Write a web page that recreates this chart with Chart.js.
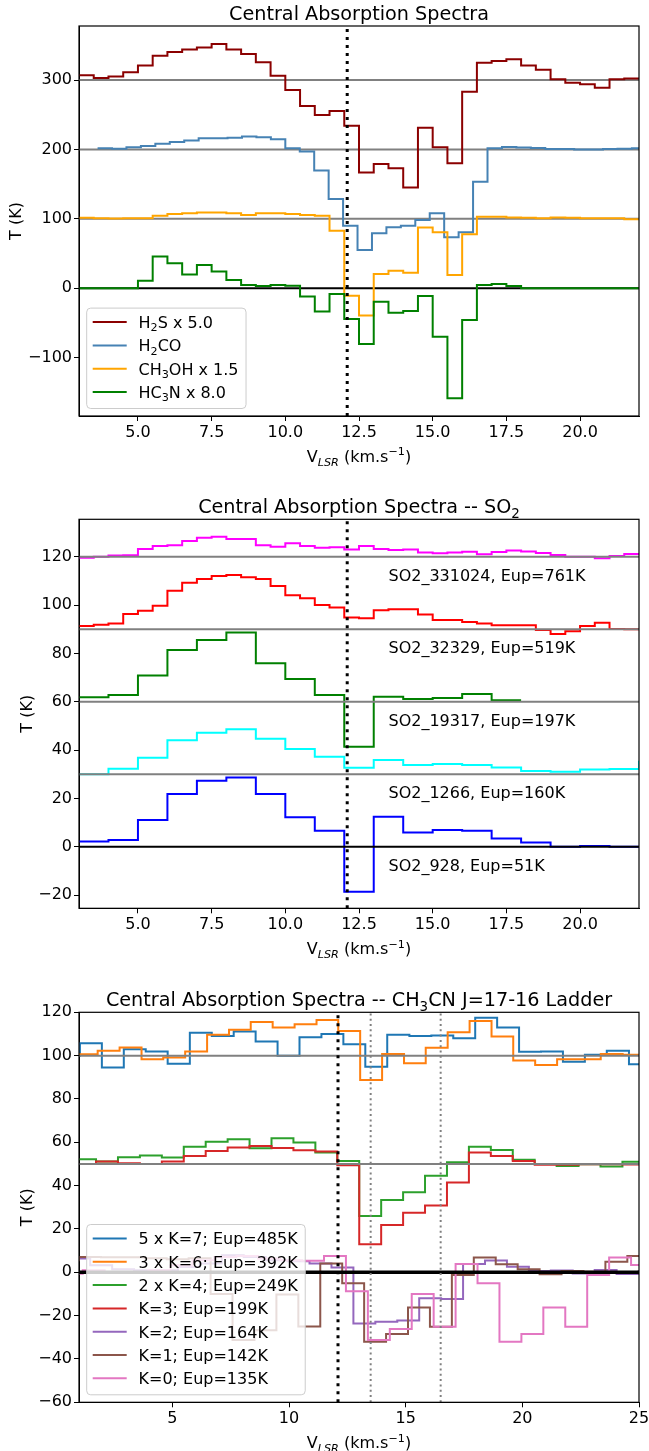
<!DOCTYPE html>
<html><head><meta charset="utf-8">
<script src="https://cdn.jsdelivr.net/npm/chart.js@4.4.1/dist/chart.umd.min.js"></script>
<style>
html,body{margin:0;padding:0;background:#fff;}
#wrap{position:relative;width:649px;height:1451px;overflow:hidden;background:#fff;}
canvas{position:absolute;left:0;}
</style></head><body>
<div id="wrap">
<canvas id="c1" width="649" height="480" style="top:0px"></canvas>
<canvas id="c2" width="649" height="490" style="top:480px"></canvas>
<canvas id="c3" width="649" height="483" style="top:968px"></canvas>
</div>
<script>
// ---------------- DATA ----------------
// Panel 1 : channel edges (km/s)
const GRID05 = [3, 3.5, 4, 4.5, 5, 5.5, 6, 6.5, 7, 7.5, 8, 8.5, 9, 9.5, 10, 10.5, 11, 11.5, 12, 12.5, 13, 13.5, 14, 14.5, 15, 15.5, 16, 16.5, 17, 17.5, 18, 18.5, 19, 19.5, 20, 20.5, 21, 21.5, 22];
const H2CO_EDGES = [3.63, 4.12, 4.61, 5.10, 5.59, 6.08, 6.57, 7.06, 7.55, 8.04, 8.53, 9.02, 9.51, 10.00, 10.49, 10.98, 11.47, 11.96, 12.45, 12.94, 13.43, 13.92, 14.41, 14.90, 15.39, 15.88, 16.37, 16.86, 17.35, 17.84, 18.33, 18.82, 19.31, 19.80, 20.29, 20.78, 21.27, 21.76, 22.25];
const H2S = [307, 303, 305, 311, 321, 335, 340.5, 344, 347, 352, 344, 337.6, 325.6, 306, 285.7, 262.7, 249.7, 255.5, 234, 166.6, 179, 173, 145, 231.4, 203, 180, 283, 325, 327.5, 330, 320.8, 314.6, 301, 296, 294, 289, 301, 302];
const H2CO = [201.7, 201, 203, 205, 208, 210.8, 212.7, 216, 216, 217, 218.5, 217.5, 214.7, 201.7, 196.9, 169.5, 128.7, 90.2, 55.2, 79.2, 87.9, 90.2, 98.4, 108, 73.5, 80.7, 153.6, 201.7, 203.6, 202.6, 202, 200.5, 200.5, 200, 200, 200.5, 201, 201.7];
const CH3OH = [101.7, 100.8, 100.5, 100.8, 101, 104.6, 107, 108, 109, 109, 108, 105.6, 108, 108, 107, 105.6, 104.6, 83, -10.6, -39.4, 20.6, 25.4, 22.5, 87.4, 80.7, 19.2, 77.8, 103.2, 103.2, 102, 101.5, 101, 102, 101.5, 101, 101, 100.8, 99.5];
const HC3N = [0, 0, 0, 0, 11, 45.6, 36, 20, 33.6, 24, 12, 4.8, 3.3, 4.8, 3.8, -12, -33.6, -8.2, -44.2, -80.3, -19.3, -35.1, -32.7, -11.1, -69.7, -158.5, -45.7, 4.8, 6.2, 3.3, 0, 0, 0, 0, 0, 0, 0, 0];
const LEGEND1 = ['H_{2}S x 5.0', 'H_{2}CO', 'CH_{3}OH x 1.5', 'HC_{3}N x 8.0'];
const COLORS1 = ['#8b0000', '#4682b4', '#ffa500', '#008000'];

// Panel 2
const GRID1 = [3, 4, 5, 6, 7, 8, 9, 10, 11, 12, 13, 14, 15, 16, 17, 18, 19, 20, 21, 22, 23];
const SO2_331024 = [119.6, 120, 120.5, 120.6, 123.2, 124.4, 124.8, 126.5, 127.9, 128.3, 127.3, 127.3, 124.8, 124.1, 125.6, 124.5, 123.7, 123.9, 123, 124.5, 123.2, 122.8, 123, 121.8, 121.4, 121.8, 122.1, 121, 122, 122.6, 122.2, 121.6, 120.7, 120, 120, 119.4, 120.3, 121.1];
const SO2_32329 = [91.3, 91.9, 92.4, 96.3, 97.7, 99.7, 105.9, 109.2, 110.8, 112, 112.4, 111.5, 110.8, 107.9, 104.1, 102.8, 100, 99, 94.9, 94.5, 97.9, 98.3, 98.3, 96.1, 93.8, 93.8, 93, 92.4, 91.7, 91.7, 91.7, 89.7, 88, 89.2, 91.3, 92.7, 90.1, 90];
const SO2_19317 = [61.8, 62.8, 70.9, 81.4, 85.5, 88.7, 75.9, 69.4, 62.8, 41.4, 62.1, 61.1, 61.5, 63.2, 60.6];
const SO2_1266 = [30, 32.3, 36.8, 44.1, 47.2, 48.6, 44.7, 40.4, 37.2, 32.7, 35.9, 33.8, 34.2, 33.8, 32.8, 31.3, 31, 31.9, 32.2, 35.6];
const SO2_928 = [2.1, 2.8, 11, 21.8, 27.3, 28.6, 21.8, 12.2, 6.6, -18.6, 12.4, 5.9, 6.9, 6.6, 3.4, 1.7, 0, 0.3, 0];
const SO2_LABELS = ['SO2_331024, Eup=761K', 'SO2_32329, Eup=519K', 'SO2_19317, Eup=197K', 'SO2_1266, Eup=160K', 'SO2_928, Eup=51K'];
const SO2_OFFSETS = [120, 90, 60, 30, 0];
const COLORS2 = ['#ff00ff', '#ff0000', '#008000', '#00ffff', '#0000ff'];

// Panel 3
const EDGES_K7 = [0.10, 1.04, 1.98, 2.92, 3.86, 4.80, 5.75, 6.69, 7.63, 8.57, 9.51, 10.45, 11.39, 12.33, 13.27, 14.21, 15.16, 16.10, 17.04, 17.98, 18.92, 19.86, 20.80, 21.74, 22.68, 23.62, 24.57, 25.51];
const EDGES_K6 = [0.86, 1.80, 2.74, 3.68, 4.61, 5.55, 6.49, 7.43, 8.36, 9.30, 10.24, 11.18, 12.11, 13.05, 13.99, 14.93, 15.86, 16.80, 17.74, 18.68, 19.61, 20.55, 21.49, 22.43, 23.36, 24.30, 25.24];
const EDGES_K43 = [0.79, 1.73, 2.67, 3.61, 4.55, 5.49, 6.43, 7.37, 8.31, 9.25, 10.19, 11.13, 12.07, 13.01, 13.95, 14.89, 15.83, 16.77, 17.71, 18.65, 19.59, 20.53, 21.47, 22.41, 23.35, 24.29, 25.23];
const EDGES_K2 = [0.54, 1.48, 2.42, 3.36, 4.30, 5.24, 6.18, 7.12, 8.06, 9.00, 9.94, 10.88, 11.82, 12.76, 13.70, 14.64, 15.58, 16.52, 17.46, 18.40, 19.34, 20.28, 21.22, 22.16, 23.10, 24.04, 24.98, 25.92];
const EDGES_K1 = [0.06, 1.00, 1.94, 2.88, 3.82, 4.76, 5.70, 6.64, 7.58, 8.52, 9.46, 10.40, 11.34, 12.28, 13.22, 14.16, 15.10, 16.04, 16.98, 17.92, 18.86, 19.80, 20.74, 21.68, 22.62, 23.56, 24.50, 25.44];
const EDGES_K0 = [0.22, 1.16, 2.10, 3.04, 3.98, 4.92, 5.86, 6.80, 7.74, 8.68, 9.62, 10.56, 11.50, 12.44, 13.38, 14.32, 15.26, 16.20, 17.14, 18.08, 19.02, 19.96, 20.90, 21.84, 22.78, 23.72, 24.66, 25.60];
const K7 = [100, 105.7, 94.5, 102.9, 101.9, 96.2, 110.6, 109.1, 111.1, 106.5, 100, 108.5, 110, 105.3, 94.9, 109.6, 109.1, 109.3, 108, 117.5, 113, 101.8, 101.9, 97.2, 100.4, 102.3, 96.0];
const K6 = [100.6, 102.3, 103.7, 98.3, 99.1, 101.9, 109.6, 112, 115.5, 113, 114.5, 116.5, 111.4, 88.8, 100.8, 96.5, 103.6, 110.8, 116, 108.8, 97.7, 95.7, 98.3, 98.3, 100.8, 100.4];
const K4 = [52.2, 51.1, 53.1, 53.9, 53.0, 58.0, 60.3, 61.4, 57.2, 61.9, 59.9, 55.3, 51.4, 26.0, 33.4, 36.9, 44.6, 50.8, 58.0, 56.5, 51.9, 50.0, 49.1, 49.9, 48.8, 51.0];
const K3 = [50.0, 51.1, 50.3, 50.0, 51.1, 53.7, 56.0, 57.6, 58.3, 57.4, 56.3, 55.8, 49.4, 12.9, 21.8, 27.5, 30.8, 41.4, 55.3, 53.7, 51.4, 49.6, 49.6, 49.9, 49.9, 49.8];
const K2 = [6.4, 3.3, 1.4, 1.0, 1.0, 2.5, 4.1, 7.9, 7.1, 5.6, 5.1, 4.1, 2.2, -23.6, -22.8, -22.3, -12.0, -12.3, 3.8, 5.4, 2.6, 0.6, 0.8, -0.5, 1.1, -0.8, 0.5];
const K1 = [5.6, 7.1, 7.0, 7.0, 6.5, 6.0, 6.5, -10.0, -31.3, -26.7, -10.3, -25.0, 4.1, -5.0, -32.0, -28.5, -16.3, -25.1, -1.2, 6.8, 3.7, 1.4, -0.9, 0.6, 0.3, 4.9, 7.5];
const K0 = [-0.7, 1.0, -0.3, 0.0, 1.0, 3.3, 5.6, 7.1, 7.5, 6.4, 5.6, 5.3, 7.5, -8.8, -31.3, -26.2, -10.0, -25.1, 3.8, -5.1, -32.0, -28.5, -16.3, -25.1, -1.2, 6.8, 3.4];
const LEGEND3 = ['5 x K=7; Eup=485K', '3 x K=6; Eup=392K', '2 x K=4; Eup=249K', 'K=3; Eup=199K', 'K=2; Eup=164K', 'K=1; Eup=142K', 'K=0; Eup=135K'];
const COLORS3 = ['#1f77b4', '#ff7f0e', '#2ca02c', '#d62728', '#9467bd', '#8c564b', '#e377c2'];

// Ticks
const X1_TICKS = [5, 7.5, 10, 12.5, 15, 17.5, 20];
const Y1_TICKS = [-100, 0, 100, 200, 300];
const Y2_TICKS = [-20, 0, 20, 40, 60, 80, 100, 120];
const X3_TICKS = [5, 10, 15, 20, 25];
const Y3_TICKS = [-60, -40, -20, 0, 20, 40, 60, 80, 100, 120];

const TITLES = ['Central Absorption Spectra', 'Central Absorption Spectra -- SO_{2}', 'Central Absorption Spectra -- CH_{3}CN J=17-16 Ladder'];
const XTITLE = 'V_{LSR} (km.s^{\u22121})';
const YTITLE = 'T (K)';

// ---------------- RENDERING ----------------
const FONT = "'DejaVu Sans', sans-serif";
Chart.defaults.font.family = FONT;
Chart.defaults.font.size = 16;
Chart.defaults.color = '#000';

function parseRich(str) {
  const out = [];
  const re = /(_\{[^}]*\}|\^\{[^}]*\})/g;
  let last = 0, m;
  while ((m = re.exec(str)) !== null) {
    if (m.index > last) out.push({t: str.slice(last, m.index)});
    const kind = m[0][0] === '_' ? 'sub' : 'sup';
    const t = m[0].slice(2, -1);
    out.push({t, s: kind, i: /[A-Za-z]/.test(t)});
    last = m.index + m[0].length;
  }
  if (last < str.length) out.push({t: str.slice(last)});
  return out;
}
function fontFor(s, size) { const sz = s.s ? size * 0.7 : size; return (s.i ? 'italic ' : '') + sz + 'px ' + FONT; }
function richWidth(ctx, segs, size) { let w = 0; for (const s of segs) { ctx.font = fontFor(s, size); w += ctx.measureText(s.t).width; } return w; }
function drawRich(ctx, str, x, y, size, align) {
  const segs = parseRich(str);
  const w = richWidth(ctx, segs, size);
  let cx = align === 'center' ? x - w / 2 : (align === 'right' ? x - w : x);
  ctx.textAlign = 'left'; ctx.textBaseline = 'alphabetic'; ctx.fillStyle = '#000';
  for (const s of segs) {
    ctx.font = fontFor(s, size);
    const dy = s.s === 'sub' ? size * 0.22 : (s.s === 'sup' ? -size * 0.42 : 0);
    ctx.fillText(s.t, cx, y + dy);
    cx += ctx.measureText(s.t).width;
  }
}

function stepPoints(edges, vals) {
  const pts = [];
  for (let i = 0; i < vals.length; i++) pts.push({x: edges[i], y: vals[i]});
  pts.push({x: edges[vals.length], y: vals[vals.length - 1]});
  return pts;
}
function makeDatasets(list) {
  const n = list.length;
  return list.map((d, i) => ({
    label: d.label, data: stepPoints(d.edges, d.vals), borderColor: d.color, backgroundColor: d.color,
    borderWidth: 2, stepped: true, pointRadius: 0, pointHoverRadius: 0, fill: false, order: n - i,
    borderJoinStyle: 'miter'
  }));
}

function fmtMinus(v) { return (v < 0 ? '\u2212' : '') + Math.abs(v); }

function makeScales(p) {
  return {
    x: {
      type: 'linear', min: p.xmin, max: p.xmax,
      afterBuildTicks: s => { s.ticks = p.xticks.map(v => ({value: v})); },
      afterFit: s => { s.height = p.xAxisH; s.paddingLeft = 0; s.paddingRight = 0; },
      ticks: {callback: p.xfmt, padding: 2, maxRotation: 0, autoSkip: false, color: '#000', font: {size: 16}},
      grid: {drawOnChartArea: false, drawTicks: true, tickLength: 5, color: '#000', lineWidth: 1},
      border: {display: true, color: '#000', width: 1}
    },
    y: {
      type: 'linear', min: p.ymin, max: p.ymax,
      afterBuildTicks: s => { s.ticks = p.yticks.map(v => ({value: v})); },
      afterFit: s => { s.width = 79; s.paddingTop = 0; s.paddingBottom = 0; },
      ticks: {callback: v => fmtMinus(v), padding: 2, autoSkip: false, color: '#000', font: {size: 16}},
      grid: {drawOnChartArea: false, drawTicks: true, tickLength: 5, color: '#000', lineWidth: 1},
      border: {display: true, color: '#000', width: 1}
    }
  };
}

function drawHLines(chart, lines) {
  const ctx = chart.ctx, ca = chart.chartArea, ys = chart.scales.y;
  ctx.save();
  ctx.beginPath(); ctx.rect(ca.left, ca.top, ca.right - ca.left, ca.bottom - ca.top); ctx.clip();
  for (const l of lines) {
    const y = ys.getPixelForValue(l.v);
    ctx.strokeStyle = l.color; ctx.lineWidth = l.w; ctx.setLineDash([]);
    ctx.beginPath(); ctx.moveTo(ca.left, y); ctx.lineTo(ca.right, y); ctx.stroke();
  }
  ctx.restore();
}
function drawVLines(chart, lines) {
  const ctx = chart.ctx, ca = chart.chartArea, xs = chart.scales.x;
  ctx.save();
  ctx.beginPath(); ctx.rect(ca.left, ca.top, ca.right - ca.left, ca.bottom - ca.top); ctx.clip();
  for (const l of lines) {
    const x = xs.getPixelForValue(l.v);
    ctx.strokeStyle = l.color; ctx.lineWidth = l.w; ctx.setLineDash(l.dash); ctx.lineCap = 'butt';
    ctx.beginPath(); ctx.moveTo(x, ca.bottom); ctx.lineTo(x, ca.top); ctx.stroke();
  }
  ctx.restore();
}
function drawLegend(chart, labels, colors) {
  const ctx = chart.ctx, ca = chart.chartArea;
  ctx.save();
  let maxW = 0;
  for (const l of labels) maxW = Math.max(maxW, richWidth(ctx, parseRich(l), 16));
  const rowH = 23.3;
  const w = 51.8 + maxW + 7.5, h = 14 + (labels.length - 1) * rowH + 16.5;
  const x0 = ca.left + 7.7, y0 = ca.bottom - 7.5 - h;
  ctx.beginPath();
  if (ctx.roundRect) ctx.roundRect(x0, y0, w, h, 4); else ctx.rect(x0, y0, w, h);
  ctx.fillStyle = 'rgba(255,255,255,0.8)'; ctx.fill();
  ctx.strokeStyle = '#cccccc'; ctx.lineWidth = 1; ctx.stroke();
  labels.forEach((l, i) => {
    const y = y0 + 14 + i * rowH;
    ctx.strokeStyle = colors[i]; ctx.lineWidth = 2;
    ctx.beginPath(); ctx.moveTo(x0 + 6, y); ctx.lineTo(x0 + 40, y); ctx.stroke();
    drawRich(ctx, l, x0 + 51.8, y + 5.8, 16, 'left');
  });
  ctx.restore();
}

function panelPlugin(p) {
  return {
    id: 'panel' + p.id,
    beforeDatasetsDraw(chart) { if (p.linesBelow) drawHLines(chart, p.hlines); },
    afterDatasetsDraw(chart) {
      if (!p.linesBelow) drawHLines(chart, p.hlines);
      drawVLines(chart, p.vlines);
    },
    afterDraw(chart) {
      const ctx = chart.ctx, ca = chart.chartArea;
      ctx.save();
      ctx.strokeStyle = '#000'; ctx.lineWidth = 1.2; ctx.setLineDash([]);
      ctx.strokeRect(ca.left, ca.top, ca.right - ca.left, ca.bottom - ca.top);
      if (p.annot) p.annot(chart);
      if (p.legend) drawLegend(chart, p.legend, p.legendColors);
      const cx = (ca.left + ca.right) / 2;
      drawRich(ctx, p.title, cx, ca.top - 6, 19.2, 'center');
      drawRich(ctx, XTITLE, cx, ca.bottom + 46, 16, 'center');
      ctx.save();
      ctx.translate(p.ytitleX, (ca.top + ca.bottom) / 2);
      ctx.rotate(-Math.PI / 2);
      ctx.font = '16px ' + FONT; ctx.textAlign = 'center'; ctx.textBaseline = 'middle'; ctx.fillStyle = '#000';
      ctx.fillText(YTITLE, 0, 0);
      ctx.restore();
      ctx.restore();
    }
  };
}

function build(canvasId, p, datasets) {
  return new Chart(document.getElementById(canvasId), {
    type: 'line',
    data: {datasets},
    options: {
      responsive: false, animation: false, events: [],
      layout: {padding: {left: 0, right: 10, top: p.padTop, bottom: 0}},
      scales: makeScales(p),
      plugins: {legend: {display: false}, tooltip: {enabled: false}, title: {display: false}}
    },
    plugins: [panelPlugin(p)]
  });
}

// Panel 1
build('c1', {
  id: 1, xmin: 3, xmax: 22, xticks: X1_TICKS, xfmt: v => v.toFixed(1),
  ymin: -184, ymax: 377.8, yticks: Y1_TICKS, xAxisH: 64, padTop: 26, ytitleX: 17,
  linesBelow: true,
  hlines: [{v: 300, color: '#808080', w: 2}, {v: 200, color: '#808080', w: 2}, {v: 100, color: '#808080', w: 2}, {v: 0, color: '#000', w: 2}],
  vlines: [{v: 12.1, color: '#000', w: 3, dash: [3, 5]}],
  legend: LEGEND1, legendColors: COLORS1, title: TITLES[0]
}, makeDatasets([
  {label: LEGEND1[0], edges: GRID05, vals: H2S, color: COLORS1[0]},
  {label: LEGEND1[1], edges: H2CO_EDGES, vals: H2CO, color: COLORS1[1]},
  {label: LEGEND1[2], edges: GRID05, vals: CH3OH, color: COLORS1[2]},
  {label: LEGEND1[3], edges: GRID05, vals: HC3N, color: COLORS1[3]}
]));

// Panel 2
build('c2', {
  id: 2, xmin: 3, xmax: 22, xticks: X1_TICKS, xfmt: v => v.toFixed(1),
  ymin: -25.5, ymax: 135.5, yticks: Y2_TICKS, xAxisH: 61.7, padTop: 39.3, ytitleX: 28,
  linesBelow: false,
  hlines: [{v: 120, color: '#808080', w: 2}, {v: 90, color: '#808080', w: 2}, {v: 60, color: '#808080', w: 2}, {v: 30, color: '#808080', w: 2}, {v: 0, color: '#000', w: 2}],
  vlines: [{v: 12.1, color: '#000', w: 3, dash: [3, 5]}],
  title: TITLES[1],
  annot(chart) {
    const ctx = chart.ctx, xs = chart.scales.x, ys = chart.scales.y;
    SO2_LABELS.forEach((t, i) => {
      drawRich(ctx, t, xs.getPixelForValue(13.5), ys.getPixelForValue(SO2_OFFSETS[i] - 10), 16, 'left');
    });
  }
}, makeDatasets([
  {label: SO2_LABELS[0], edges: GRID05, vals: SO2_331024, color: COLORS2[0]},
  {label: SO2_LABELS[1], edges: GRID05, vals: SO2_32329, color: COLORS2[1]},
  {label: SO2_LABELS[2], edges: GRID1, vals: SO2_19317, color: COLORS2[2]},
  {label: SO2_LABELS[3], edges: GRID1, vals: SO2_1266, color: COLORS2[3]},
  {label: SO2_LABELS[4], edges: GRID1, vals: SO2_928, color: COLORS2[4]}
]));

// Panel 3
build('c3', {
  id: 3, xmin: 1, xmax: 25, xticks: X3_TICKS, xfmt: v => String(v),
  ymin: -60, ymax: 120, yticks: Y3_TICKS, xAxisH: 48.7, padTop: 44.3, ytitleX: 28,
  linesBelow: false,
  hlines: [{v: 100, color: '#808080', w: 2}, {v: 50, color: '#808080', w: 2}, {v: 0, color: '#000', w: 3.5}],
  vlines: [{v: 12.1, color: '#000', w: 3, dash: [3, 5]}, {v: 13.5, color: '#808080', w: 2, dash: [2, 3.3]}, {v: 16.5, color: '#808080', w: 2, dash: [2, 3.3]}],
  legend: LEGEND3, legendColors: COLORS3, title: TITLES[2]
}, makeDatasets([
  {label: LEGEND3[0], edges: EDGES_K7, vals: K7, color: COLORS3[0]},
  {label: LEGEND3[1], edges: EDGES_K6, vals: K6, color: COLORS3[1]},
  {label: LEGEND3[2], edges: EDGES_K43, vals: K4, color: COLORS3[2]},
  {label: LEGEND3[3], edges: EDGES_K43, vals: K3, color: COLORS3[3]},
  {label: LEGEND3[4], edges: EDGES_K2, vals: K2, color: COLORS3[4]},
  {label: LEGEND3[5], edges: EDGES_K1, vals: K1, color: COLORS3[5]},
  {label: LEGEND3[6], edges: EDGES_K0, vals: K0, color: COLORS3[6]}
]));
</script>
</body></html>
